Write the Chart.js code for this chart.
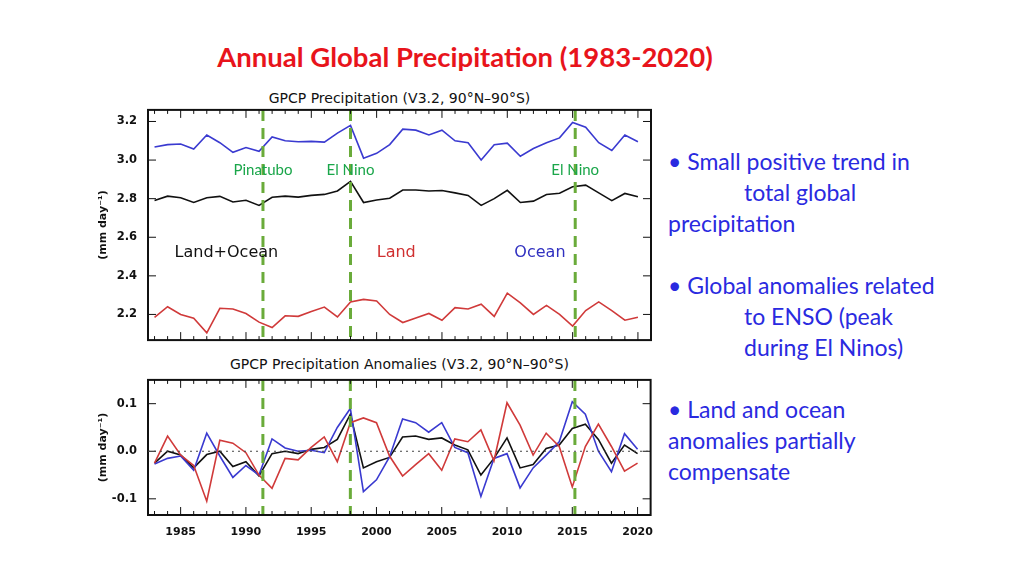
<!DOCTYPE html>
<html><head><meta charset="utf-8">
<script src="https://cdn.jsdelivr.net/npm/chart.js@4/dist/chart.umd.min.js"></script>
<style>
body{margin:0;width:1024px;height:575px;background:#fff;position:relative;overflow:hidden;font-family:Lato,sans-serif}
.abs{position:absolute}
#title{left:0;width:930px;top:40px;text-align:center;color:#e8141b;font-weight:bold;font-size:27.5px}
.pt{font-family:"DejaVu Sans",sans-serif;font-size:14px;color:#111;text-align:center;width:503px;left:148px}
#notes{left:668px;top:146px;color:#2a2ae0;font-size:23px;line-height:31px;width:320px}
</style></head><body>
<div id="title" class="abs">Annual Global Precipitation (1983-2020)</div>
<div class="abs pt" style="top:90px">GPCP Precipitation (V3.2, 90°N–90°S)</div>
<div class="abs pt" style="top:356px">GPCP Precipitation Anomalies (V3.2, 90°N–90°S)</div>
<div class="abs" style="left:95px;top:100px;width:561px;height:250px"><canvas id="c1"></canvas></div>
<div class="abs" style="left:95px;top:370px;width:561px;height:173px"><canvas id="c2"></canvas></div>
<div id="notes" class="abs">• Small positive trend in<br><span style="padding-left:76px">total global</span><br>precipitation<br><br>• Global anomalies related<br><span style="padding-left:76px">to ENSO (peak</span><br><span style="padding-left:76px">during El Ninos)</span><br><br>• Land and ocean<br>anomalies partially<br>compensate</div>
<script>
const years=[];for(let y=1983;y<=2020;y++)years.push(y);
const ocean=[3.068,3.08,3.083,3.057,3.13,3.09,3.04,3.065,3.045,3.12,3.10,3.095,3.097,3.093,3.14,3.18,3.01,3.035,3.08,3.16,3.155,3.13,3.155,3.10,3.09,3.0,3.08,3.088,3.02,3.06,3.09,3.115,3.195,3.17,3.09,3.05,3.13,3.095];
const total=[2.79,2.813,2.805,2.78,2.805,2.812,2.783,2.792,2.765,2.807,2.813,2.808,2.817,2.822,2.84,2.89,2.78,2.793,2.802,2.845,2.845,2.84,2.842,2.83,2.817,2.765,2.8,2.843,2.78,2.787,2.822,2.828,2.862,2.87,2.83,2.79,2.827,2.81];
const land=[2.185,2.24,2.2,2.18,2.105,2.232,2.228,2.205,2.16,2.132,2.193,2.19,2.215,2.238,2.187,2.265,2.278,2.27,2.2,2.158,2.182,2.205,2.17,2.235,2.228,2.253,2.19,2.31,2.26,2.2,2.247,2.2,2.14,2.22,2.265,2.22,2.17,2.185];
const landAnom=[-0.025,0.032,-0.008,-0.03,-0.105,0.023,0.017,-0.003,-0.05,-0.078,-0.015,-0.018,0.008,0.03,-0.022,0.06,0.07,0.06,-0.01,-0.052,-0.028,-0.005,-0.04,0.026,0.02,0.045,-0.02,0.102,0.055,-0.008,0.038,0.01,-0.075,0.01,0.057,0.01,-0.042,-0.025];
const oceanAnom=[-0.027,-0.015,-0.01,-0.04,0.038,-0.01,-0.055,-0.03,-0.05,0.026,0.007,0.0,0.002,-0.003,0.05,0.09,-0.085,-0.06,-0.012,0.068,0.06,0.04,0.06,0.008,-0.003,-0.095,-0.015,-0.005,-0.077,-0.035,-0.008,0.02,0.104,0.078,0.0,-0.043,0.037,0.004];
const totalAnom=[-0.025,0.0,-0.008,-0.035,-0.007,0.0,-0.032,-0.022,-0.052,-0.005,0.0,-0.005,0.004,0.008,0.025,0.078,-0.035,-0.022,-0.013,0.03,0.032,0.025,0.028,0.013,0.003,-0.05,-0.015,0.028,-0.035,-0.028,0.006,0.013,0.048,0.057,0.025,-0.025,0.013,-0.005];
const eventYears=[1991.3,1998.0,2015.2];
const eventLabels=["Pinatubo","El Nino","El Nino"];
const xTicks=[1985,1990,1995,2000,2005,2010,2015,2020];
const upperTicks=[2.2,2.4,2.6,2.8,3.0,3.2];
const lowerTicks=[-0.1,0.0,0.1];
const pts=a=>a.map((v,i)=>({x:years[i],y:v}));
const ds=(a,c)=>({data:pts(a),borderColor:c,borderWidth:1.6,pointRadius:0,tension:0,fill:false});
const frame={id:'frame',afterDatasetsDraw(ch,_,o){
  const {ctx,chartArea:a,scales:{x,y}}=ch;ctx.save();
  ctx.strokeStyle='#6aab3a';ctx.lineWidth=3;ctx.setLineDash([11,7]);
  eventYears.forEach(e=>{const px=x.getPixelForValue(e);ctx.beginPath();ctx.moveTo(px,a.top);ctx.lineTo(px,a.bottom);ctx.stroke();});
  ctx.setLineDash([]);
  ctx.strokeStyle='#111';ctx.lineWidth=2;ctx.strokeRect(a.left,a.top,a.width,a.height);
  ctx.lineWidth=1;
  for(let yy=1983;yy<=2020;yy++){const px=x.getPixelForValue(yy);const L=yy%5?4:8;ctx.beginPath();ctx.moveTo(px,a.bottom);ctx.lineTo(px,a.bottom-L);ctx.moveTo(px,a.top);ctx.lineTo(px,a.top+L);ctx.stroke();}
  o.yt.forEach(v=>{const py=y.getPixelForValue(v);ctx.beginPath();ctx.moveTo(a.left,py);ctx.lineTo(a.left+8,py);ctx.moveTo(a.right,py);ctx.lineTo(a.right-8,py);ctx.stroke();});
  if(o.labels){ctx.font='15px Lato';ctx.fillStyle='#1aa64a';ctx.textAlign='center';
    eventYears.forEach((e,i)=>ctx.fillText(eventLabels[i],x.getPixelForValue(e),y.getPixelForValue(2.925)));
    ctx.font='16px "DejaVu Sans"';
    [['Land+Ocean','#111',1988.5],['Land','#d03030',2001.5],['Ocean','#3030c0',2012.5]].forEach(t=>{ctx.fillStyle=t[1];ctx.fillText(t[0],x.getPixelForValue(t[2]),y.getPixelForValue(2.5));});}
  if(o.zero){ctx.strokeStyle='#444';ctx.setLineDash([2,4]);const py=y.getPixelForValue(0);ctx.beginPath();ctx.moveTo(a.left,py);ctx.lineTo(a.right,py);ctx.stroke();}
  ctx.restore();}};
function make(id,sets,ymin,ymax,yt,xlab,opts,pad,xh){
 new Chart(document.getElementById(id),{type:'line',data:{datasets:sets},plugins:[frame],
 options:{responsive:true,maintainAspectRatio:false,animation:false,layout:{padding:{top:pad,right:5}},
 plugins:{legend:{display:false},tooltip:{enabled:false},frame:opts},
 scales:{x:{type:'linear',min:1982.5,max:2021,afterBuildTicks:s=>{s.ticks=xTicks.map(v=>({value:v}));},
   afterFit:s=>{s.height=xh;},border:{display:false},grid:{display:false},
   ticks:{display:xlab,maxRotation:0,color:'#111',font:{family:'DejaVu Sans',size:11,weight:'bold'},callback:v=>String(v)}},
  y:{min:ymin,max:ymax,afterBuildTicks:s=>{s.ticks=yt.map(v=>({value:v}));},afterFit:s=>{s.width=53;},
   border:{display:false},grid:{display:false},
   title:{display:true,text:'(mm day⁻¹)',color:'#111',font:{family:'DejaVu Sans',size:11,weight:'bold'},padding:2},
   ticks:{color:'#111',font:{family:'DejaVu Sans',size:11.5,weight:'bold'},callback:v=>v.toFixed(1)}}}}});
}
make('c1',[ds(ocean,'#3a3ad0'),ds(total,'#111'),ds(land,'#d03a3a')],2.067,3.26,upperTicks,false,{yt:upperTicks,labels:true},8,8);
make('c2',[ds(landAnom,'#d03a3a'),ds(oceanAnom,'#3a3ad0'),ds(totalAnom,'#111')],-0.134,0.15,lowerTicks,true,{yt:lowerTicks,zero:true},7,28);
</script></body></html>
